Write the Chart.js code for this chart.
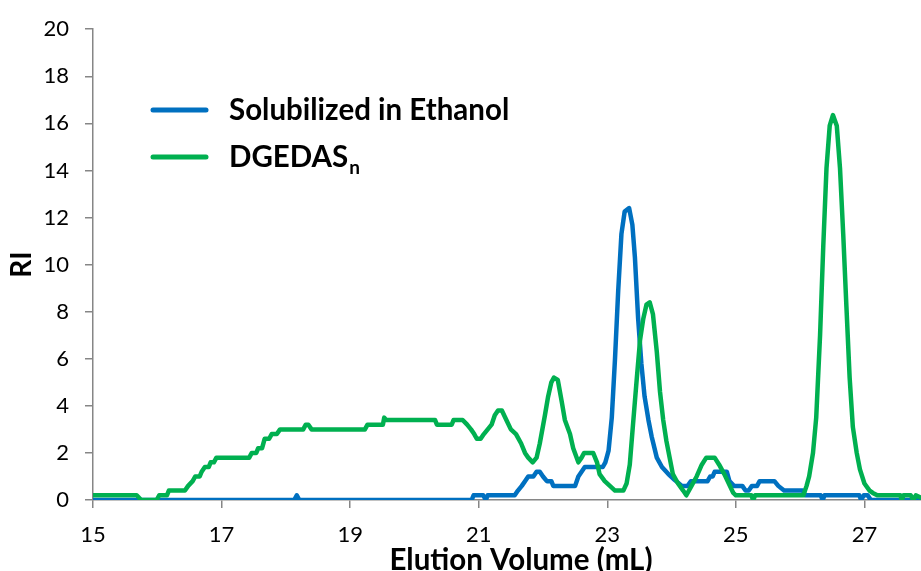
<!DOCTYPE html>
<html>
<head>
<meta charset="utf-8">
<script src="https://cdn.jsdelivr.net/npm/chart.js@4.4.1/dist/chart.umd.min.js"></script>
<style>
  html, body { margin: 0; padding: 0; background: #fff; }
  canvas { display: block; }
</style>
</head>
<body>
<canvas id="chart" width="921" height="571"></canvas>
<script>
// RI traces vs elution volume (mL)
const seriesNames = ['Solubilized in Ethanol', 'DGEDAS_n'];
const seriesColors = ['#0070C0', '#00B050'];
const xTitle = 'Elution Volume (mL)';

const ethanolVolume = [
  15.0, 18.13, 18.17, 18.21, 20.89, 20.92, 21.07, 21.11, 21.14, 21.56, 21.61, 21.67,
  21.72, 21.77, 21.85, 21.9, 21.95, 22.0, 22.06, 22.13, 22.16, 22.5, 22.55, 22.6,
  22.65, 22.93, 22.97, 23.02, 23.07, 23.12, 23.17, 23.22, 23.27, 23.34, 23.39, 23.43,
  23.48, 23.53, 23.58, 23.64, 23.69, 23.77, 23.85, 23.95, 24.05, 24.16, 24.25, 24.3,
  24.56, 24.6, 24.64, 24.67, 24.86, 24.9, 24.97, 25.1, 25.15, 25.2, 25.25, 25.33,
  25.37, 25.6, 25.66, 25.75, 26.04, 26.08, 26.32, 26.35, 26.38, 26.92, 26.95, 26.99,
  27.05, 27.1, 27.88
];
const ethanolRI = [
  0.0, 0.0, 0.2, 0.0, 0.0, 0.2, 0.2, 0.0, 0.2, 0.2, 0.4, 0.6,
  0.8, 1.0, 1.0, 1.2, 1.2, 1.0, 0.8, 0.8, 0.6, 0.6, 1.0, 1.2,
  1.4, 1.4, 1.6, 2.1, 3.5, 6.0, 8.9, 11.3, 12.25, 12.4, 11.7, 10.3,
  7.7, 5.8, 4.4, 3.4, 2.7, 1.8, 1.4, 1.1, 0.85, 0.6, 0.6, 0.8,
  0.8, 1.0, 1.0, 1.2, 1.2, 0.8, 0.6, 0.6, 0.4, 0.4, 0.6, 0.6,
  0.8, 0.8, 0.6, 0.4, 0.4, 0.2, 0.2, 0.0, 0.2, 0.2, 0.0, 0.2,
  0.2, 0.0, 0.0
];

const dgedasVolume = [
  15.0, 15.68, 15.75, 15.99, 16.03, 16.15, 16.18, 16.43, 16.48, 16.55, 16.59, 16.66,
  16.69, 16.74, 16.8, 16.83, 16.88, 16.92, 17.43, 17.47, 17.54, 17.57, 17.63, 17.67,
  17.74, 17.78, 17.86, 17.91, 18.27, 18.31, 18.35, 18.4, 19.23, 19.27, 19.51, 19.53,
  19.56, 20.32, 20.35, 20.58, 20.61, 20.75, 20.82, 20.88, 20.93, 20.97, 21.03, 21.08,
  21.14, 21.2, 21.25, 21.3, 21.36, 21.43, 21.5, 21.58, 21.66, 21.72, 21.77, 21.84,
  21.9, 21.95, 22.03, 22.08, 22.13, 22.17, 22.23, 22.25, 22.29, 22.34, 22.42, 22.47,
  22.55, 22.6, 22.64, 22.78, 22.84, 22.88, 22.96, 23.04, 23.12, 23.25, 23.3, 23.35,
  23.4, 23.46, 23.51, 23.56, 23.61, 23.66, 23.71, 23.77, 23.82, 23.87, 23.92, 23.97,
  24.02, 24.1, 24.18, 24.23, 24.31, 24.39, 24.47, 24.54, 24.67, 24.74, 24.82, 24.89,
  24.96, 25.0, 25.24, 25.27, 25.3, 26.05, 26.1, 26.14, 26.2, 26.25, 26.31, 26.36,
  26.41, 26.46, 26.51, 26.57, 26.62, 26.67, 26.72, 26.77, 26.82, 26.88, 26.93, 27.0,
  27.08, 27.13, 27.2, 27.56, 27.58, 27.61, 27.72, 27.76, 27.8, 27.88
];
const dgedasRI = [
  0.2, 0.2, 0.0, 0.0, 0.2, 0.2, 0.4, 0.4, 0.6, 0.8, 1.0, 1.0,
  1.2, 1.4, 1.4, 1.6, 1.6, 1.8, 1.8, 2.0, 2.0, 2.2, 2.2, 2.6,
  2.6, 2.8, 2.8, 3.0, 3.0, 3.2, 3.2, 3.0, 3.0, 3.2, 3.2, 3.5,
  3.4, 3.4, 3.2, 3.2, 3.4, 3.4, 3.2, 3.0, 2.8, 2.6, 2.6, 2.8,
  3.0, 3.2, 3.6, 3.8, 3.8, 3.4, 3.0, 2.8, 2.4, 2.0, 1.8, 1.6,
  1.8, 2.4, 3.6, 4.4, 5.0, 5.2, 5.1, 4.8, 4.2, 3.4, 2.8, 2.2,
  1.6, 1.8, 2.0, 2.0, 1.6, 1.1, 0.8, 0.6, 0.4, 0.4, 0.7, 1.5,
  3.2, 5.2, 6.8, 7.7, 8.3, 8.4, 7.9, 6.3, 4.6, 3.4, 2.5, 1.8,
  1.1, 0.7, 0.4, 0.2, 0.6, 1.0, 1.5, 1.8, 1.8, 1.5, 1.1, 0.7,
  0.3, 0.2, 0.2, 0.0, 0.2, 0.2, 0.6, 1.0, 2.0, 3.5, 7.0, 10.8,
  14.1, 15.9, 16.35, 15.9, 14.1, 11.3, 8.2, 5.2, 3.1, 2.0, 1.3, 0.7,
  0.4, 0.3, 0.2, 0.2, 0.0, 0.2, 0.2, 0.0, 0.2, 0.1
];

const xTicks = [15, 17, 19, 21, 23, 25, 27];
const yTicks = [0, 2, 4, 6, 8, 10, 12, 14, 16, 18, 20];

const toPoints = (xs, ys) => xs.map((x, i) => ({ x: x, y: ys[i] }));
const axisGray = '#868686';

// Legend inside the plot (subscript after '_', e.g. DGEDAS_n) plus the x-axis title
const insetLegend = {
  id: 'insetLegend',
  afterDraw(chart) {
    const ctx = chart.ctx;
    const rows = [110, 157];
    ctx.save();
    seriesNames.forEach((name, i) => {
      const y = rows[i];
      ctx.strokeStyle = seriesColors[i];
      ctx.lineWidth = 5;
      ctx.lineCap = 'round';
      ctx.beginPath();
      ctx.moveTo(153, y);
      ctx.lineTo(206, y);
      ctx.stroke();

      const [main, sub] = name.split('_');
      ctx.fillStyle = '#000';
      ctx.textBaseline = 'middle';
      ctx.textAlign = 'left';
      ctx.font = 'bold 29.5px Lato';
      ctx.fillText(main, 229, y);
      if (sub) {
        const w = ctx.measureText(main).width;
        ctx.font = 'bold 19px Lato';
        ctx.fillText(sub, 229 + w + 1, y + 11);
      }
    });

    ctx.font = 'bold 29.5px Lato';
    ctx.textAlign = 'center';
    ctx.textBaseline = 'middle';
    ctx.fillText(xTitle, 521, 560);
    ctx.restore();
  }
};

new Chart(document.getElementById('chart'), {
  type: 'line',
  data: {
    datasets: [
      {
        label: seriesNames[0],
        data: toPoints(ethanolVolume, ethanolRI),
        borderColor: seriesColors[0],
        borderWidth: 4.5,
        pointRadius: 0,
        tension: 0,
        borderJoinStyle: 'round',
        borderCapStyle: 'round',
        order: 1
      },
      {
        label: seriesNames[1],
        data: toPoints(dgedasVolume, dgedasRI),
        borderColor: seriesColors[1],
        borderWidth: 4.5,
        pointRadius: 0,
        tension: 0,
        borderJoinStyle: 'round',
        borderCapStyle: 'round',
        order: 0
      }
    ]
  },
  options: {
    responsive: false,
    animation: false,
    layout: { padding: { top: 27, right: 0, left: 0, bottom: 0 } },
    plugins: {
      legend: { display: false },
      tooltip: { enabled: false }
    },
    scales: {
      x: {
        type: 'linear',
        min: 15,
        max: 27.88,
        afterBuildTicks: (scale) => { scale.ticks = xTicks.map(v => ({ value: v })); },
        afterFit: (scale) => { scale.height = 71; },
        border: { color: axisGray, width: 1.5 },
        grid: { drawOnChartArea: false, drawTicks: true, tickLength: 8, color: axisGray, lineWidth: 1.5 },
        ticks: {
          color: '#000',
          padding: 14,
          maxRotation: 0,
          font: { family: 'Lato', size: 22 }
        },
        title: { display: false }
      },
      y: {
        min: 0,
        max: 20,
        afterBuildTicks: (scale) => { scale.ticks = yTicks.map(v => ({ value: v })); },
        afterFit: (scale) => { scale.width = 93; },
        border: { color: axisGray, width: 1.5 },
        grid: { drawOnChartArea: false, drawTicks: true, tickLength: 8, color: axisGray, lineWidth: 1.5 },
        ticks: {
          color: '#000',
          padding: 16,
          font: { family: 'Lato', size: 22 }
        },
        title: {
          display: true,
          text: 'RI',
          color: '#000',
          padding: { top: 5, bottom: 0 },
          font: { family: 'Lato', size: 28, weight: 'bold' }
        }
      }
    }
  },
  plugins: [insetLegend]
});
</script>
</body>
</html>
